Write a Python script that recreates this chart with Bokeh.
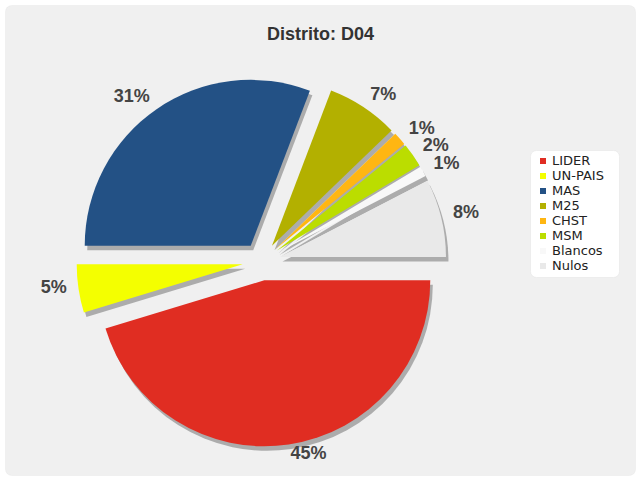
import numpy as np
from bokeh.plotting import figure
from bokeh.models import ColumnDataSource, Range1d, BoxAnnotation, Label, Legend, LegendItem
from bokeh.core.properties import value
from bokeh.embed import file_html
from bokeh.resources import INLINE

# ---- data ----
title_text = "Distrito: D04"
parties = ["LIDER", "UN-PAIS", "MAS", "M25", "CHST", "MSM", "Blancos", "Nulos"]
shares = [45.3, 4.7, 30.8, 7.0, 1.3, 2.3, 1.0, 7.6]
colors = ["#e02d22", "#f4ff00", "#235185", "#b3b000", "#ffb612", "#bbdd00", "#f8f8f8", "#e9e9e9"]

# ---- layout ----
W, H = 640, 480
CX, CY = 261, H - 261     # pie centre (data units = px)
R = 166                   # radius
OFF = 19                  # explode offset
LR = 178                  # label distance from slice centre
LBL_DY = 3                # label vertical nudge
SH_DX, SH_DY = 2.5, -4.5  # shadow offset

frac = np.array(shares) / np.sum(shares)
cum = np.concatenate([[0.0], np.cumsum(frac)])
a_start = -cum[:-1] * 2 * np.pi   # clockwise from 3 o'clock
a_end = -cum[1:] * 2 * np.pi
mid = (a_start + a_end) / 2
cx = CX + OFF * np.cos(mid)
cy = CY + OFF * np.sin(mid)

src = ColumnDataSource(dict(party=parties, share=shares, color=colors,
                            x=cx, y=cy, sx=cx + SH_DX, sy=cy + SH_DY,
                            start=a_end, end=a_start))

p = figure(width=W, height=H, x_range=Range1d(0, W), y_range=Range1d(0, H),
           min_border=0, toolbar_location=None, output_backend="svg",
           x_axis_location=None, y_axis_location=None)
p.grid.visible = False
p.outline_line_color = None
p.background_fill_color = "white"
p.border_fill_color = "white"

# chart background with rounded border
p.add_layout(BoxAnnotation(left=5, right=635, bottom=5, top=475, fill_color="#f0f0f0",
                           fill_alpha=1, line_color="#e2e2e2", line_width=1,
                           border_radius=6, level="underlay"))
# legend box
p.add_layout(BoxAnnotation(left=530, right=619, bottom=H - 277, top=H - 150, fill_color="white",
                           fill_alpha=1, line_color="#e6e6e6", line_alpha=0.6, line_width=1,
                           border_radius=6, level="underlay"))

# shadows then slices
p.wedge(x="sx", y="sy", radius=R, start_angle="start", end_angle="end", source=src,
        fill_color="#acacac", line_color=None)
p.wedge(x="x", y="y", radius=R, start_angle="start", end_angle="end", source=src,
        fill_color="color", line_color=None)

# data labels
lx = cx + LR * np.cos(mid)
ly = cy + LR * np.sin(mid) + LBL_DY
txt = [f"{s:.0f}%" for s in shares]
right_side = np.cos(mid) >= 0
for side, align in ((True, "left"), (False, "right")):
    m = right_side == side
    ls = ColumnDataSource(dict(x=lx[m], y=ly[m], t=[t for t, k in zip(txt, m) if k]))
    p.text(x="x", y="y", text="t", source=ls, text_align=align, text_baseline="middle",
           text_font=value("Liberation Sans"), text_font_style="bold",
           text_font_size="18px", text_color="#444444")

# title
p.add_layout(Label(x=W / 2, y=H - 33, text=title_text, text_align="center",
                   text_baseline="middle", text_font="Liberation Sans",
                   text_font_style="bold", text_font_size="18px", text_color="#333333"))

# legend (square swatches)
lsrc = ColumnDataSource(dict(x=[np.nan] * len(parties), y=[np.nan] * len(parties), color=colors))
lr = p.scatter(x="x", y="y", marker="square", size=6, fill_color="color", line_color=None, source=lsrc)
items = [LegendItem(label=name, renderers=[lr], index=i) for i, name in enumerate(parties)]
legend = Legend(items=items, location=(532, 204), padding=3, margin=0, spacing=0,
                glyph_width=15, glyph_height=15, label_height=15, label_standoff=2,
                label_text_font="DejaVu Sans", label_text_font_size="13px",
                label_text_color="#222222", background_fill_alpha=0, border_line_alpha=0)
p.add_layout(legend, "center")

open("out.html", "w").write(file_html(p, INLINE))
